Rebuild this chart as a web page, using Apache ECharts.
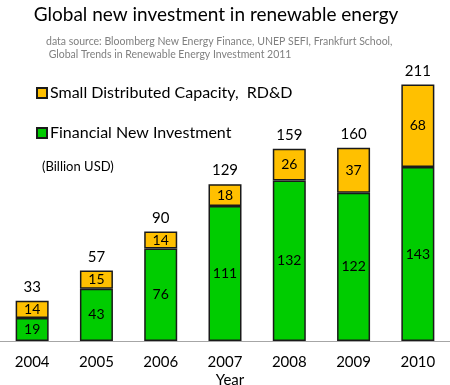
<!DOCTYPE html>
<html><head><meta charset="utf-8">
<script src="https://cdn.jsdelivr.net/npm/echarts@6/dist/echarts.min.js"></script>
<style>html,body{margin:0;padding:0;background:#fff}#c{width:450px;height:385px}</style>
</head><body><div id="c"></div>
<script>
const years = ['2004','2005','2006','2007','2008','2009','2010'];
const financial = [19,43,76,111,132,122,143];
const smallRD = [14,15,14,18,26,37,68];
const totals = [33,57,90,129,159,160,211];
const zeros = [0,0,0,0,0,0,0];

const FONT = 'Lato';
const chart = echarts.init(document.getElementById('c'), null, {renderer:'canvas'});
chart.setOption({
  animation:false,
  backgroundColor:'#fff',
  textStyle:{fontFamily:FONT},
  title:[
    {text:'Global new investment in renewable energy', left:211, top:0, textAlign:'center',
     textStyle:{fontFamily:FONT, fontSize:19, fontWeight:'normal', color:'#000'}},
    {text:'data source: Bloomberg New Energy Finance, UNEP SEFI, Frankfurt School,\n Global Trends in Renewable Energy Investment 2011', left:41, top:30,
     textStyle:{fontFamily:FONT, fontSize:10.5, fontWeight:'normal', color:'#808080', lineHeight:13}},
    {text:'(Billion USD)', left:37, top:155,
     textStyle:{fontFamily:FONT, fontSize:13, fontWeight:'normal', color:'#000'}},
    {text:'Year', left:225, top:368, textAlign:'center',
     textStyle:{fontFamily:FONT, fontSize:15, fontWeight:'normal', color:'#000'}}
  ],
  legend:{
    orient:'vertical', left:31, top:78, itemGap:20, itemWidth:10, itemHeight:10,
    icon:'rect', data:['Small Distributed Capacity,  RD&D','Financial New Investment'],
    textStyle:{fontFamily:FONT, fontSize:16, color:'#000', padding:[0,0,0,-2], lineHeight:20}
  },
  grid:{left:-2, right:0, top:37, bottom:44},
  xAxis:{type:'category', data:years,
    axisLine:{lineStyle:{color:'#a6a6a6', width:1}}, axisTick:{show:false},
    axisLabel:{fontFamily:FONT, fontSize:15, color:'#000', margin:14}},
  yAxis:{type:'value', min:0, max:250, show:false, splitLine:{show:false}},
  series:[
    {name:'Financial New Investment', type:'bar', stack:'a', data:financial, barWidth:33,
     itemStyle:{color:'#00cc00', borderColor:'#1a1a1a', borderWidth:1.5},
     label:{show:true, position:'inside', fontFamily:FONT, fontSize:14, color:'#000'}},
    {name:'Small Distributed Capacity,  RD&D', type:'bar', stack:'a', data:smallRD, barWidth:33,
     itemStyle:{color:'#ffc000', borderColor:'#1a1a1a', borderWidth:1.5},
     label:{show:true, position:'inside', fontFamily:FONT, fontSize:14, color:'#000'}},
    {name:'total', type:'bar', stack:'a', data:zeros, barWidth:33,
     itemStyle:{color:'transparent', borderWidth:0},
     label:{show:true, position:'top', distance:6, fontFamily:FONT, fontSize:15, color:'#000',
       formatter:p=>String(totals[p.dataIndex])}}
  ]
});
</script></body></html>
